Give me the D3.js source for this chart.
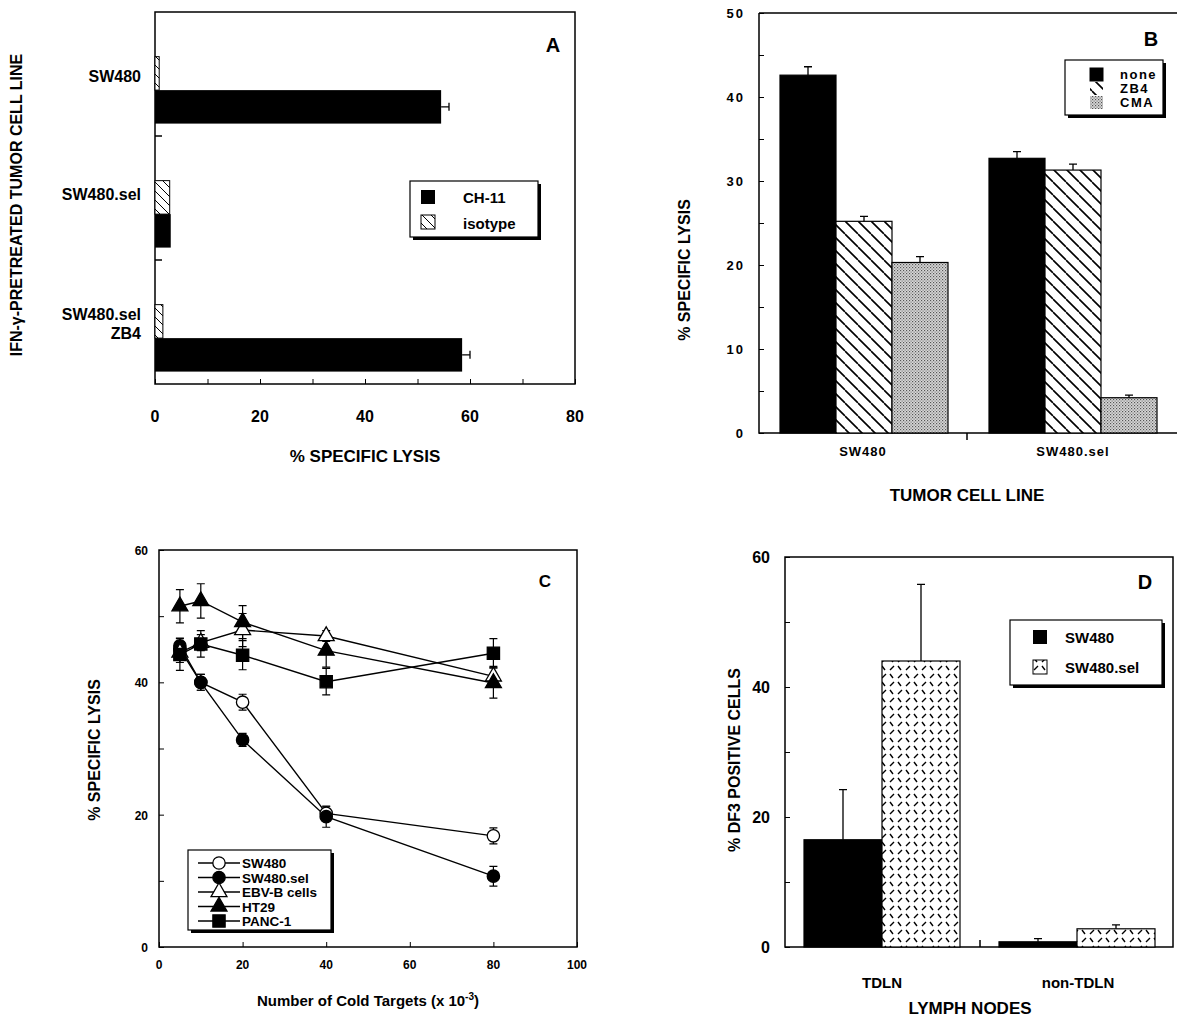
<!DOCTYPE html>
<html><head><meta charset="utf-8">
<script src="https://cdn.jsdelivr.net/npm/d3@7"></script>
<style>body{margin:0;background:#fff}text{font-family:"Liberation Sans",Arial,sans-serif;font-weight:bold}</style>
</head><body>
<script>
"use strict";

// panel A
const aCats = ["SW480", "SW480.sel", "SW480.sel ZB4"];
const aCH11 = [54.5, 3, 58.5];
const aCH11Err = [1.5, 0, 1.5];
const aIsotype = [0.8, 2.8, 1.5];

// panel B
const bCats = ["SW480", "SW480.sel"];
const bSeries = ["none", "ZB4", "CMA"];
const bValues = [[42.6, 25.2, 20.3], [32.7, 31.3, 4.2]];
const bErr = [[1.0, 0.6, 0.7], [0.8, 0.7, 0.3]];

// panel C
const cX = [5, 10, 20, 40, 80];
const cNames = ["SW480", "SW480.sel", "EBV-B cells", "HT29", "PANC-1"];
const cSW480 = [45, 40, 37, 20.2, 16.8];
const cSW480Err = [1.2, 1.2, 1.2, 1.0, 1.2];
const cSel = [45.5, 40, 31.3, 19.7, 10.7];
const cSelErr = [1.2, 1.2, 1.0, 1.6, 1.5];
const cEBV = [44.5, 46, 47.9, 47, 40.9];
const cEBVErr = [1.5, 1.2, 2.5, 0.8, 1.5];
const cHT29 = [51.5, 52.3, 49.1, 44.8, 39.9];
const cHT29Err = [2.5, 2.6, 2.5, 2.5, 2.3];
const cPANC = [44.2, 45.8, 44.1, 40.1, 44.4];
const cPANCErr = [2.4, 2.0, 2.2, 2.0, 2.2];

// panel D
const dCats = ["TDLN", "non-TDLN"];
const dSeries = ["SW480", "SW480.sel"];
const dValues = [[16.5, 44], [0.8, 2.8]];
const dErr = [[7.7, 11.8], [0.5, 0.6]];

const svg = d3.select("body").append("svg").attr("width", 1177).attr("height", 1022);
const defs = svg.append("defs");

function hatch(id, size, draw, bg) {
  const p = defs.append("pattern").attr("id", id).attr("patternUnits", "userSpaceOnUse")
    .attr("width", size).attr("height", size);
  p.append("rect").attr("width", size).attr("height", size).attr("fill", bg || "#fff");
  draw(p);
}
hatch("diag", 13, p => {
  p.append("path").attr("d", "M0,0 L13,13 M-13,0 L0,13 M0,-13 L13,0").attr("stroke", "#000").attr("stroke-width", 1.6);
});
hatch("diagA", 9, p => {
  p.append("path").attr("d", "M0,0 L9,9 M-9,0 L0,9 M0,-9 L9,0").attr("stroke", "#000").attr("stroke-width", 1);
});
hatch("dots", 3, p => {
  p.append("rect").attr("width", 1.2).attr("height", 1.2).attr("fill", "#555");
  p.append("rect").attr("x", 1.5).attr("y", 1.5).attr("width", 1.2).attr("height", 1.2).attr("fill", "#777");
}, "#d8d8d8");
hatch("dash", 16, p => {
  p.append("path").attr("d", "M2,6 L6,2 M10,14 L14,10 M10,2 L13,6 M2,10 L5,14").attr("stroke", "#000").attr("stroke-width", 1.4);
});

function box(x0, y0, x1, y1) {
  svg.append("rect").attr("x", x0).attr("y", y0).attr("width", x1 - x0).attr("height", y1 - y0)
    .attr("fill", "none").attr("stroke", "#000").attr("stroke-width", 1.5);
}
function label(x, y, t, size, anchor, rot) {
  const el = svg.append("text").attr("x", x).attr("y", y).attr("font-size", size)
    .attr("text-anchor", anchor || "middle").text(t);
  if (rot) el.attr("transform", `rotate(-90,${x},${y})`);
  return el;
}
function errBar(x, y1, y2, cap) {
  svg.append("path").attr("d", `M${x},${y1}V${y2}M${x - cap},${y2}H${x + cap}`).attr("stroke", "#000").attr("stroke-width", 1.3);
}
function legend(x, y, w, h) {
  svg.append("rect").attr("x", x + 3).attr("y", y + 3).attr("width", w).attr("height", h).attr("fill", "#000");
  svg.append("rect").attr("x", x).attr("y", y).attr("width", w).attr("height", h).attr("fill", "#fff").attr("stroke", "#000").attr("stroke-width", 1.2);
}

// ---------- A ----------
{
  const x = d3.scaleLinear().domain([0, 80]).range([155, 575]);
  const y = d3.scaleBand().domain(aCats).range([12, 384]);
  box(155, 12, 575, 384);
  const g = svg.append("g").attr("transform", "translate(0,384)");
  g.call(d3.axisBottom(x).tickValues(d3.range(0, 81, 10)).tickSize(-5).tickFormat(""));
  g.select(".domain").remove();
  [0, 20, 40, 60, 80].forEach(v => label(x(v), 422, v, 16));
  label(365, 462, "% SPECIFIC LYSIS", 17);
  label(22, 205, "IFN-γ-PRETREATED TUMOR CELL LINE", 16, "middle", true);
  [136, 260].forEach(v => svg.append("line").attr("x1", 155).attr("x2", 162).attr("y1", v).attr("y2", v).attr("stroke", "#000").attr("stroke-width", 1.5));
  const bw = y.bandwidth();
  aCats.forEach((c, i) => {
    const top = y(c);
    svg.append("rect").attr("x", x(0)).attr("y", top + bw * 0.36).attr("width", x(aIsotype[i]) - x(0)).attr("height", bw * 0.27)
      .attr("fill", "url(#diagA)").attr("stroke", "#000");
    svg.append("rect").attr("x", x(0)).attr("y", top + bw * 0.63).attr("width", x(aCH11[i]) - x(0)).attr("height", bw * 0.27)
      .attr("fill", "#000");
    if (aCH11Err[i]) {
      const cy = top + bw * 0.765;
      svg.append("path").attr("d", `M${x(aCH11[i])},${cy}H${x(aCH11[i] + aCH11Err[i])}M${x(aCH11[i] + aCH11Err[i])},${cy - 4}V${cy + 4}`).attr("stroke", "#000").attr("stroke-width", 1.3);
    }
  });
  label(141, 82, "SW480", 16, "end");
  label(141, 200, "SW480.sel", 16, "end");
  label(141, 320, "SW480.sel", 16, "end");
  label(141, 339, "ZB4", 16, "end");
  label(553, 52, "A", 20);
  legend(410, 181, 128, 56);
  svg.append("rect").attr("x", 421).attr("y", 190).attr("width", 14).attr("height", 14).attr("fill", "#000");
  svg.append("rect").attr("x", 421).attr("y", 215).attr("width", 14).attr("height", 14).attr("fill", "url(#diagA)").attr("stroke", "#000");
  label(463, 203, "CH-11", 15, "start");
  label(463, 229, "isotype", 15, "start");
}

// ---------- B ----------
{
  const x0 = d3.scaleBand().domain(bCats).range([759, 1177]);
  const x1 = d3.scaleBand().domain(bSeries).range([21, 189]);
  const y = d3.scaleLinear().domain([0, 50]).range([433, 13]);
  svg.append("path").attr("d", "M759,13H1177M759,13V433H1177").attr("fill", "none").attr("stroke", "#000").attr("stroke-width", 1.5);
  const g = svg.append("g").attr("transform", "translate(759,0)");
  g.call(d3.axisLeft(y).tickValues(d3.range(0, 51, 5)).tickSize(-5).tickFormat(""));
  g.select(".domain").remove();
  d3.range(0, 51, 10).forEach(v => label(745, y(v) + 5, v, 13, "end").attr("letter-spacing", 2));
  svg.append("line").attr("x1", 967).attr("x2", 967).attr("y1", 433).attr("y2", 440).attr("stroke", "#000").attr("stroke-width", 1.5);
  const fills = ["#000", "url(#diag)", "url(#dots)"];
  bCats.forEach((c, i) => {
    bSeries.forEach((s, j) => {
      const bx = x0(c) + x1(s);
      svg.append("rect").attr("x", bx).attr("y", y(bValues[i][j])).attr("width", x1.bandwidth()).attr("height", y(0) - y(bValues[i][j]))
        .attr("fill", fills[j]).attr("stroke", "#000").attr("stroke-width", 1.2);
      errBar(bx + x1.bandwidth() / 2, y(bValues[i][j]), y(bValues[i][j] + bErr[i][j]), 4);
    });
  });
  label(863, 456, "SW480", 13).attr("letter-spacing", 1);
  label(1073, 456, "SW480.sel", 13).attr("letter-spacing", 1);
  label(967, 501, "TUMOR CELL LINE", 17);
  label(690, 270, "% SPECIFIC LYSIS", 16, "middle", true);
  label(1151, 46, "B", 20);
  legend(1065, 60, 98, 55);
  ["none", "ZB4", "CMA"].forEach((s, j) => {
    svg.append("rect").attr("x", 1090).attr("y", 68 + j * 14).attr("width", 13).attr("height", 13).attr("fill", fills[j]).attr("stroke", fills[j] === "#000" ? "#000" : "none");
    label(1120, 79 + j * 14, s, 13, "start").attr("letter-spacing", 1.5);
  });
}

// ---------- C ----------
{
  const x = d3.scaleLinear().domain([0, 100]).range([159, 577]);
  const y = d3.scaleLinear().domain([0, 60]).range([947, 550]);
  box(159, 550, 577, 947);
  const gx = svg.append("g").attr("transform", "translate(0,947)");
  gx.call(d3.axisBottom(x).ticks(5).tickSize(-5).tickFormat(""));
  gx.select(".domain").remove();
  const gy = svg.append("g").attr("transform", "translate(159,0)");
  gy.call(d3.axisLeft(y).ticks(6).tickSize(-5).tickFormat(""));
  gy.select(".domain").remove();
  d3.range(0, 101, 20).forEach(v => label(x(v), 969, v, 12));
  d3.range(0, 61, 20).forEach(v => label(148, y(v) + 5, v, 12, "end"));
  const t = label(368, 1006, "Number of Cold Targets (x 10", 15, "middle");
  t.append("tspan").attr("font-size", 10).attr("dy", -6).text("-3");
  t.append("tspan").attr("dy", 6).text(")");
  label(100, 750, "% SPECIFIC LYSIS", 16, "middle", true);
  label(545, 587, "C", 17);

  const series = [
    { v: cSW480, e: cSW480Err, m: "circle", fill: "#fff" },
    { v: cSel, e: cSelErr, m: "circle", fill: "#000" },
    { v: cEBV, e: cEBVErr, m: "triangle", fill: "#fff" },
    { v: cHT29, e: cHT29Err, m: "triangle", fill: "#000" },
    { v: cPANC, e: cPANCErr, m: "square", fill: "#000" }
  ];
  const sym = { circle: d3.symbolCircle, triangle: d3.symbolTriangle, square: d3.symbolSquare };
  const size = { circle: 120, triangle: 110, square: 150 };
  const line = d3.line().x((d, i) => x(cX[i])).y(d => y(d));
  series.forEach(s => {
    svg.append("path").attr("d", line(s.v)).attr("fill", "none").attr("stroke", "#000").attr("stroke-width", 1.4);
    s.v.forEach((v, i) => {
      svg.append("path").attr("d", `M${x(cX[i])},${y(v - s.e[i])}V${y(v + s.e[i])}M${x(cX[i]) - 4},${y(v - s.e[i])}h8M${x(cX[i]) - 4},${y(v + s.e[i])}h8`)
        .attr("stroke", "#000").attr("stroke-width", 1.2);
    });
  });
  series.forEach(s => {
    s.v.forEach((v, i) => {
      svg.append("path").attr("d", d3.symbol(sym[s.m], size[s.m])())
        .attr("transform", `translate(${x(cX[i])},${y(v)})`).attr("fill", s.fill).attr("stroke", "#000").attr("stroke-width", 1.3);
    });
  });
  legend(188, 850, 143, 80);
  series.forEach((s, j) => {
    const ly = 863 + j * 14.5;
    svg.append("line").attr("x1", 198).attr("x2", 240).attr("y1", ly).attr("y2", ly).attr("stroke", "#000").attr("stroke-width", 1.3);
    svg.append("path").attr("d", d3.symbol(sym[s.m], size[s.m])()).attr("transform", `translate(219,${ly})`)
      .attr("fill", s.fill).attr("stroke", "#000").attr("stroke-width", 1.3);
    label(242, ly + 5, cNames[j], 13.5, "start");
  });
}

// ---------- D ----------
{
  const x0 = d3.scaleBand().domain(dCats).range([785, 1175]);
  const x1 = d3.scaleBand().domain(dSeries).range([19, 175]);
  const y = d3.scaleLinear().domain([0, 60]).range([947, 557]);
  box(785, 557, 1173, 947);
  const gy = svg.append("g").attr("transform", "translate(785,0)");
  gy.call(d3.axisLeft(y).ticks(6).tickSize(-5).tickFormat(""));
  gy.select(".domain").remove();
  d3.range(0, 61, 20).forEach(v => label(770, y(v) + 6, v, 16, "end"));
  svg.append("line").attr("x1", 980).attr("x2", 980).attr("y1", 947).attr("y2", 940).attr("stroke", "#000").attr("stroke-width", 1.5);
  const fills = ["#000", "url(#dash)"];
  dCats.forEach((c, i) => {
    dSeries.forEach((s, j) => {
      const bx = x0(c) + x1(s);
      svg.append("rect").attr("x", bx).attr("y", y(dValues[i][j])).attr("width", x1.bandwidth()).attr("height", y(0) - y(dValues[i][j]))
        .attr("fill", fills[j]).attr("stroke", "#000").attr("stroke-width", 1.2);
      errBar(bx + x1.bandwidth() / 2, y(dValues[i][j]), y(dValues[i][j] + dErr[i][j]), 4);
    });
  });
  label(882, 988, "TDLN", 15);
  label(1078, 988, "non-TDLN", 15);
  label(970, 1014, "LYMPH NODES", 17);
  label(740, 760, "% DF3 POSITIVE CELLS", 16, "middle", true);
  label(1145, 589, "D", 20);
  legend(1010, 620, 152, 65);
  svg.append("rect").attr("x", 1033).attr("y", 630).attr("width", 14).attr("height", 14).attr("fill", "#000");
  svg.append("rect").attr("x", 1033).attr("y", 660).attr("width", 14).attr("height", 14).attr("fill", "url(#dash)").attr("stroke", "#000");
  label(1065, 643, "SW480", 15, "start");
  label(1065, 673, "SW480.sel", 15, "start");
}
</script>
</body></html>
